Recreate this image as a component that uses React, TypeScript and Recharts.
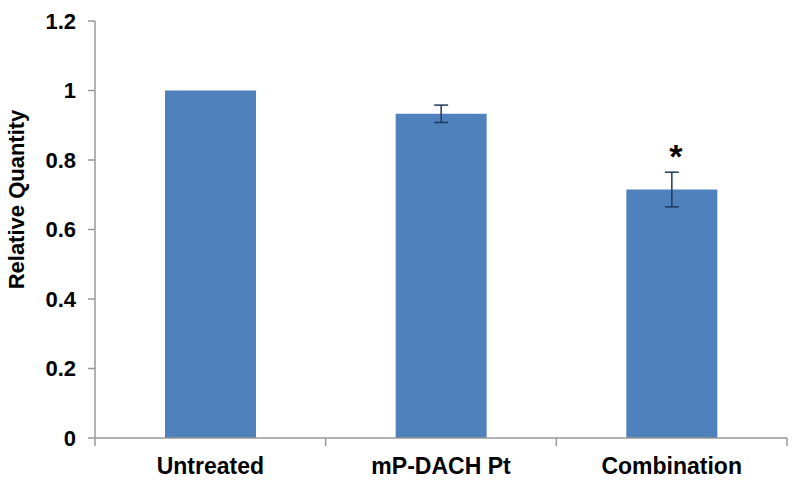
import { Bar, BarChart, ErrorBar, Label, LabelList, XAxis, YAxis } from 'recharts';

const categories = ['Untreated', 'mP-DACH Pt', 'Combination'];
const quantity = [1.0, 0.933, 0.715];
const quantityErr = [null, 0.025, 0.05];
const significance = ['', '', '*'];
const yTicks = [0, 0.2, 0.4, 0.6, 0.8, 1, 1.2];

const data = categories.map((name, i) => ({
  name,
  value: quantity[i],
  err: quantityErr[i],
  sig: significance[i],
}));

const FONT = '"Liberation Sans", Arial, sans-serif';
const AXIS_GREY = '#999999';

function YLabel({ viewBox }: { viewBox?: { x: number; y: number; width: number; height: number } }) {
  if (!viewBox) return null;
  const x = viewBox.x + 24;
  const y = viewBox.y + viewBox.height / 2 - 30;
  return (
    <text
      x={x}
      y={y}
      transform={`rotate(-90 ${x} ${y})`}
      textAnchor="middle"
      fontFamily={FONT}
      fontWeight="bold"
      fontSize={22}
      fill="#000"
    >
      Relative Quantity
    </text>
  );
}

// Category label plus Excel-style tick marks on the band edges.
// payload.offset is half the band width from the category scale.
function CategoryTick(props: any) {
  const { x, y, payload, index, visibleTicksCount } = props;
  const half = payload.offset ?? 0;
  const axisY = y - 20;
  return (
    <g>
      <line x1={x - half} x2={x - half} y1={axisY} y2={axisY + 8} stroke={AXIS_GREY} strokeWidth={1.5} />
      {index === visibleTicksCount - 1 && (
        <line x1={x + half} x2={x + half} y1={axisY} y2={axisY + 8} stroke={AXIS_GREY} strokeWidth={1.5} />
      )}
      <text
        x={x}
        y={y}
        dy="0.71em"
        textAnchor="middle"
        fontFamily={FONT}
        fontWeight="bold"
        fontSize={23}
        fill="#000"
      >
        {payload.value}
      </text>
    </g>
  );
}

export default function App() {
  return (
    <div style={{ position: 'absolute', left: 0, top: 0, background: '#fff' }}>
      <BarChart
        width={800}
        height={485}
        data={data}
        margin={{ top: 21, right: 13, left: 0, bottom: 0 }}
      >
        <XAxis
          dataKey="name"
          axisLine={{ stroke: AXIS_GREY, strokeWidth: 1.5 }}
          tickLine={false}
          tickSize={0}
          tickMargin={20}
          height={47}
          interval={0}
          tick={<CategoryTick />}
        />
        <YAxis
          width={95}
          domain={[0, 1.2]}
          ticks={yTicks}
          axisLine={{ stroke: AXIS_GREY, strokeWidth: 1.5 }}
          tickLine={{ stroke: AXIS_GREY, strokeWidth: 1.5 }}
          tickSize={7}
          tickMargin={12}
          tick={{ fill: '#000', fontFamily: FONT, fontWeight: 'bold', fontSize: 22 }}
        >
          <Label content={<YLabel />} />
        </YAxis>
        <Bar dataKey="value" fill="#4f81bd" barSize={91} isAnimationActive={false}>
          <ErrorBar dataKey="err" width={7} stroke="#1f3a5f" strokeWidth={1.5} isAnimationActive={false} />
          <LabelList
            dataKey="sig"
            position="top"
            offset={22}
            dx={4}
            fill="#000"
            fontFamily={FONT}
            fontWeight="bold"
            fontSize={34}
          />
        </Bar>
      </BarChart>
    </div>
  );
}
